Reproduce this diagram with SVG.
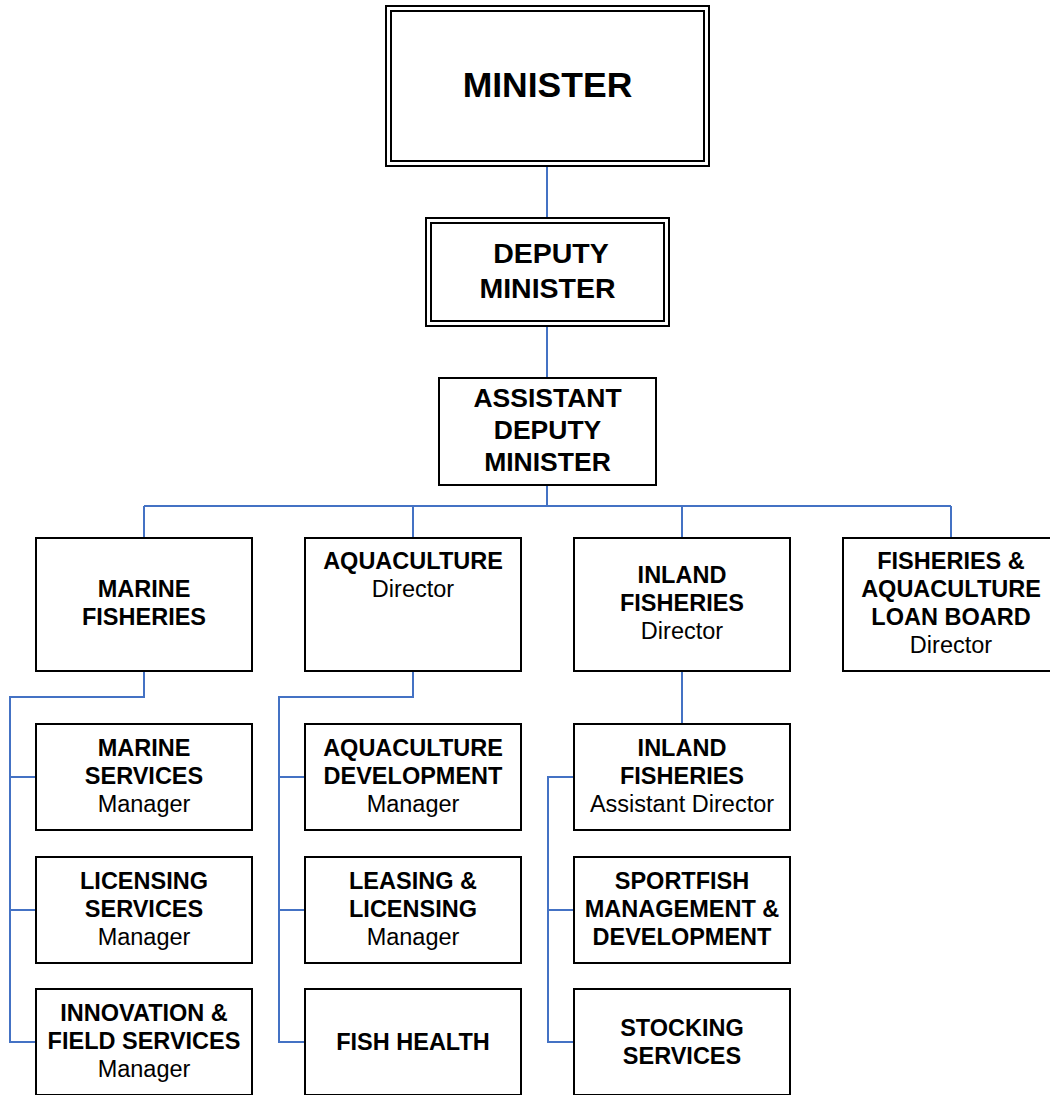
<svg xmlns="http://www.w3.org/2000/svg" width="1050" height="1095" viewBox="0 0 1050 1095">
<style>
.box{fill:#fff;stroke:#000;stroke-width:2}
.con{fill:none;stroke:#4472C4;stroke-width:2}
text{font-family:"Liberation Sans",Arial,sans-serif;fill:#000;text-anchor:middle}
.b{font-weight:bold;font-size:23.5px}
.r{font-weight:normal;font-size:23.5px}
</style>
<rect width="1050" height="1095" fill="#fff"/>
<g id="connectors">
<path class="con" d="M547,166V218M547,326V378M547,485V506"/>
<path class="con" d="M144,506H951M144,506V538M413,506V538M682,506V538M951,506V538"/>
<path class="con" d="M144,671V697H10V1042H36M10,777H36M10,910H36"/>
<path class="con" d="M413,671V697H279V1042H305M279,777H305M279,910H305"/>
<path class="con" d="M682,671V724M574,777H548V1042H574M548,910H574"/>
</g>
<g id="minister">
<rect class="box" x="386" y="6" width="323" height="160"/>
<rect class="box" x="391" y="11" width="313" height="150"/>
<text x="547.5" y="97" style="font-weight:bold;font-size:35.5px">MINISTER</text>
</g>
<g id="deputy-minister">
<rect class="box" x="426" y="218" width="243" height="108"/>
<rect class="box" x="431" y="223" width="233" height="98"/>
<text x="551" y="263" style="font-weight:bold;font-size:28.5px">DEPUTY</text>
<text x="547.5" y="298" style="font-weight:bold;font-size:28.5px">MINISTER</text>
</g>
<g id="assistant-deputy-minister">
<rect class="box" x="439" y="378" width="217" height="107"/>
<text x="547.5" y="407" style="font-weight:bold;font-size:26.5px">ASSISTANT</text>
<text x="547.5" y="439" style="font-weight:bold;font-size:26.5px">DEPUTY</text>
<text x="547.5" y="471" style="font-weight:bold;font-size:26.5px">MINISTER</text>
</g>
<g id="marine-fisheries">
<rect class="box" x="36" y="538" width="216" height="133"/>
<text class="b" x="144" y="597">MARINE</text>
<text class="b" x="144" y="625">FISHERIES</text>
</g>
<g id="aquaculture">
<rect class="box" x="305" y="538" width="216" height="133"/>
<text class="b" x="413" y="569">AQUACULTURE</text>
<text class="r" x="413" y="597">Director</text>
</g>
<g id="inland-fisheries">
<rect class="box" x="574" y="538" width="216" height="133"/>
<text class="b" x="682" y="583">INLAND</text>
<text class="b" x="682" y="611">FISHERIES</text>
<text class="r" x="682" y="639">Director</text>
</g>
<g id="loan-board">
<rect class="box" x="843" y="538" width="216" height="133"/>
<text class="b" x="951" y="569">FISHERIES &amp;</text>
<text class="b" x="951" y="597">AQUACULTURE</text>
<text class="b" x="951" y="625">LOAN BOARD</text>
<text class="r" x="951" y="653">Director</text>
</g>
<g id="marine-services">
<rect class="box" x="36" y="724" width="216" height="106"/>
<text class="b" x="144" y="756">MARINE</text>
<text class="b" x="144" y="784">SERVICES</text>
<text class="r" x="144" y="812">Manager</text>
</g>
<g id="licensing-services">
<rect class="box" x="36" y="857" width="216" height="106"/>
<text class="b" x="144" y="889">LICENSING</text>
<text class="b" x="144" y="917">SERVICES</text>
<text class="r" x="144" y="945">Manager</text>
</g>
<g id="innovation-field-services">
<rect class="box" x="36" y="989" width="216" height="106"/>
<text class="b" x="144" y="1021">INNOVATION &amp;</text>
<text class="b" x="144" y="1049">FIELD SERVICES</text>
<text class="r" x="144" y="1077">Manager</text>
</g>
<g id="aquaculture-development">
<rect class="box" x="305" y="724" width="216" height="106"/>
<text class="b" x="413" y="756">AQUACULTURE</text>
<text class="b" x="413" y="784">DEVELOPMENT</text>
<text class="r" x="413" y="812">Manager</text>
</g>
<g id="leasing-licensing">
<rect class="box" x="305" y="857" width="216" height="106"/>
<text class="b" x="413" y="889">LEASING &amp;</text>
<text class="b" x="413" y="917">LICENSING</text>
<text class="r" x="413" y="945">Manager</text>
</g>
<g id="fish-health">
<rect class="box" x="305" y="989" width="216" height="106"/>
<text class="b" x="413" y="1050">FISH HEALTH</text>
</g>
<g id="inland-fisheries-ad">
<rect class="box" x="574" y="724" width="216" height="106"/>
<text class="b" x="682" y="756">INLAND</text>
<text class="b" x="682" y="784">FISHERIES</text>
<text class="r" x="682" y="812">Assistant Director</text>
</g>
<g id="sportfish">
<rect class="box" x="574" y="857" width="216" height="106"/>
<text class="b" x="682" y="889">SPORTFISH</text>
<text class="b" x="682" y="917">MANAGEMENT &amp;</text>
<text class="b" x="682" y="945">DEVELOPMENT</text>
</g>
<g id="stocking-services">
<rect class="box" x="574" y="989" width="216" height="106"/>
<text class="b" x="682" y="1036">STOCKING</text>
<text class="b" x="682" y="1064">SERVICES</text>
</g>
</svg>
